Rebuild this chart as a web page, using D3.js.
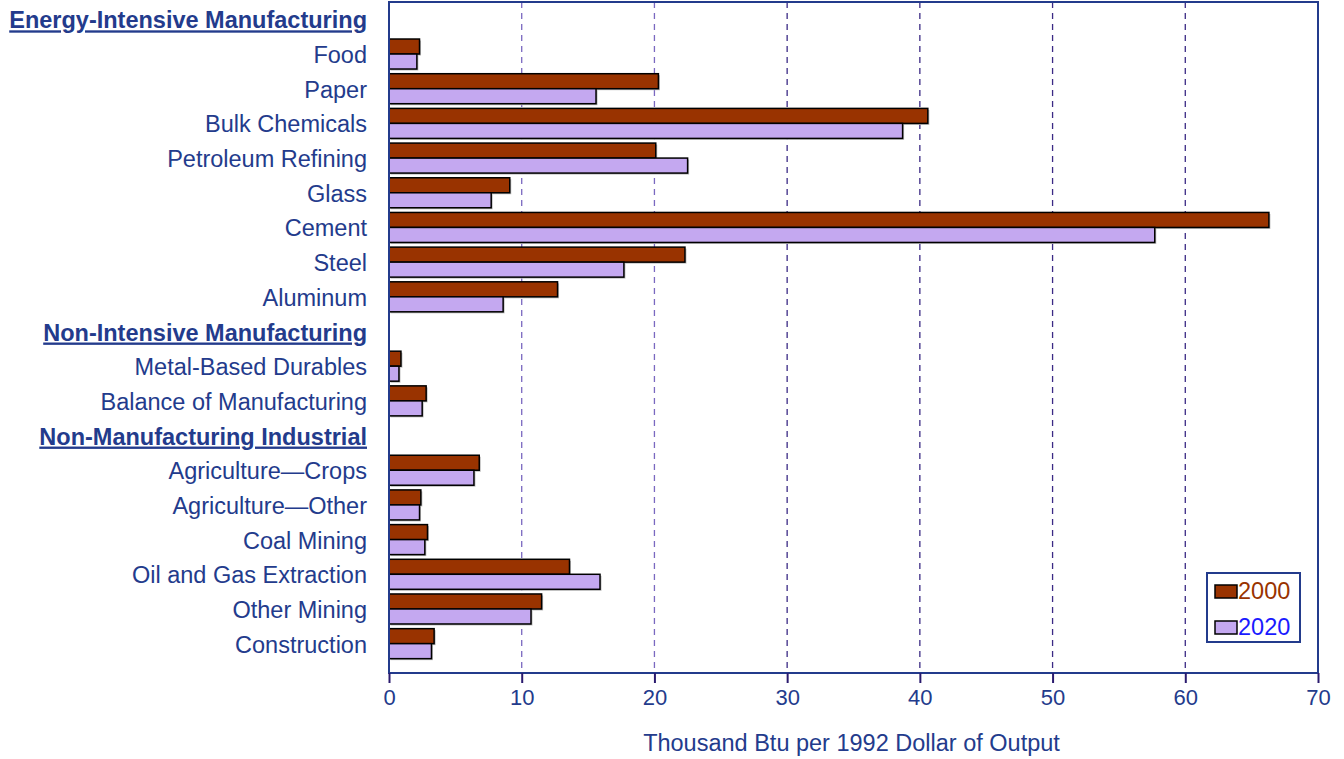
<!DOCTYPE html>
<html>
<head>
<meta charset="utf-8">
<script src="https://cdn.jsdelivr.net/npm/d3@7"></script>
<style>
body { margin: 0; background: #fff; }
svg { display: block; font-family: Arial, "Liberation Sans", sans-serif; }
</style>
</head>
<body>
<svg width="1344" height="759"></svg>
<script>
// rows, top to bottom; headers have no values
var rows = [
	"Energy-Intensive Manufacturing", "Food", "Paper", "Bulk Chemicals", "Petroleum Refining",
	"Glass", "Cement", "Steel", "Aluminum",
	"Non-Intensive Manufacturing", "Metal-Based Durables", "Balance of Manufacturing",
	"Non-Manufacturing Industrial", "Agriculture\u2014Crops", "Agriculture\u2014Other", "Coal Mining",
	"Oil and Gas Extraction", "Other Mining", "Construction"
]
var headers = ["Energy-Intensive Manufacturing", "Non-Intensive Manufacturing", "Non-Manufacturing Industrial"]
var values2000 = [null, 2.3, 20.3, 40.6, 20.1, 9.1, 66.3, 22.3, 12.7, null, 0.9, 2.8, null, 6.8, 2.4, 2.9, 13.6, 11.5, 3.4]
var values2020 = [null, 2.1, 15.6, 38.7, 22.5, 7.7, 57.7, 17.7, 8.6, null, 0.75, 2.5, null, 6.4, 2.3, 2.7, 15.9, 10.7, 3.2]
var xTicks = [0, 10, 20, 30, 40, 50, 60, 70]
var series = ["2000", "2020"]

var svg = d3.select("svg")
var navy = "#233b8c"
var fills = { "2000": "#993300", "2020": "#c4a8f0" }
var legendText = { "2000": "#993300", "2020": "#1a1aff" }
var fs = 23.5

var x = d3.scaleLinear().domain([0, 70]).range([389, 1318])
var y = d3.scaleBand().domain(rows).range([2, 661])
var axisY = 673

// gridlines
svg.append("g")
	.selectAll("line")
	.data(xTicks.filter(d => d > 0 && d < 70))
	.enter()
	.append("line")
	.attr("x1", d => x(d)).attr("x2", d => x(d))
	.attr("y1", 2).attr("y2", axisY)
	.attr("stroke", d => d >= 30 ? "#3b2a85" : "#7a68c0")
	.attr("stroke-width", 1.3)
	.attr("stroke-dasharray", "6,5")

// bars
var barH = 15
var bars = []
rows.forEach(function (r, i) {
	if (values2000[i] == null) return
	bars.push({ row: r, s: "2000", v: values2000[i], off: -barH })
	bars.push({ row: r, s: "2020", v: values2020[i], off: 0 })
})
var cy = r => y(r) + y.bandwidth() / 2

// shadow
svg.append("g")
	.selectAll("rect")
	.data(bars)
	.enter()
	.append("rect")
	.attr("x", x(0) + 1.5)
	.attr("y", d => cy(d.row) + d.off + 1.5)
	.attr("width", d => x(d.v) - x(0))
	.attr("height", barH)
	.attr("fill", "#bbb")

svg.append("g")
	.selectAll("rect")
	.data(bars)
	.enter()
	.append("rect")
	.attr("x", x(0))
	.attr("y", d => cy(d.row) + d.off)
	.attr("width", d => x(d.v) - x(0))
	.attr("height", barH)
	.attr("fill", d => fills[d.s])
	.attr("stroke", "#000")
	.attr("stroke-width", 1.5)

// frame
svg.append("rect")
	.attr("x", x(0)).attr("y", 2)
	.attr("width", x(70) - x(0)).attr("height", axisY - 2)
	.attr("fill", "none")
	.attr("stroke", navy)
	.attr("stroke-width", 2)

// x axis
var xAxis = svg.append("g")
	.attr("transform", "translate(0," + axisY + ")")
	.call(d3.axisBottom(x).tickValues(xTicks).tickSize(10).tickPadding(6))
xAxis.select(".domain").remove()
xAxis.selectAll(".tick line").attr("stroke", "#2a1a6e").attr("stroke-width", 2)
xAxis.selectAll(".tick text")
	.attr("fill", navy)
	.attr("font-size", 22)
	.attr("font-family", "Arial, 'Liberation Sans', sans-serif")

svg.append("text")
	.attr("x", (x(0) + x(70)) / 2 - 2)
	.attr("y", 751)
	.attr("text-anchor", "middle")
	.attr("fill", navy)
	.attr("font-size", fs)
	.text("Thousand Btu per 1992 Dollar of Output")

// row labels
svg.append("g")
	.selectAll("text")
	.data(rows)
	.enter()
	.append("text")
	.attr("x", 367)
	.attr("y", d => cy(d) + 9)
	.attr("text-anchor", "end")
	.attr("fill", navy)
	.attr("font-size", fs)
	.attr("font-weight", d => headers.includes(d) ? "bold" : null)
	.attr("text-decoration", d => headers.includes(d) ? "underline" : null)
	.text(d => d)

// legend
var lg = svg.append("g").attr("transform", "translate(1207,573)")
lg.append("rect")
	.attr("width", 93).attr("height", 69)
	.attr("fill", "#fff")
	.attr("stroke", navy)
	.attr("stroke-width", 2)
series.forEach(function (s, i) {
	var yy = 18 + i * 36
	lg.append("rect")
		.attr("x", 8).attr("y", yy - 6)
		.attr("width", 22).attr("height", 13)
		.attr("fill", fills[s])
		.attr("stroke", "#000")
		.attr("stroke-width", 1.5)
	lg.append("text")
		.attr("x", 31).attr("y", yy + 8)
		.attr("fill", legendText[s])
		.attr("font-size", fs)
		.text(s)
})
</script>
</body>
</html>
